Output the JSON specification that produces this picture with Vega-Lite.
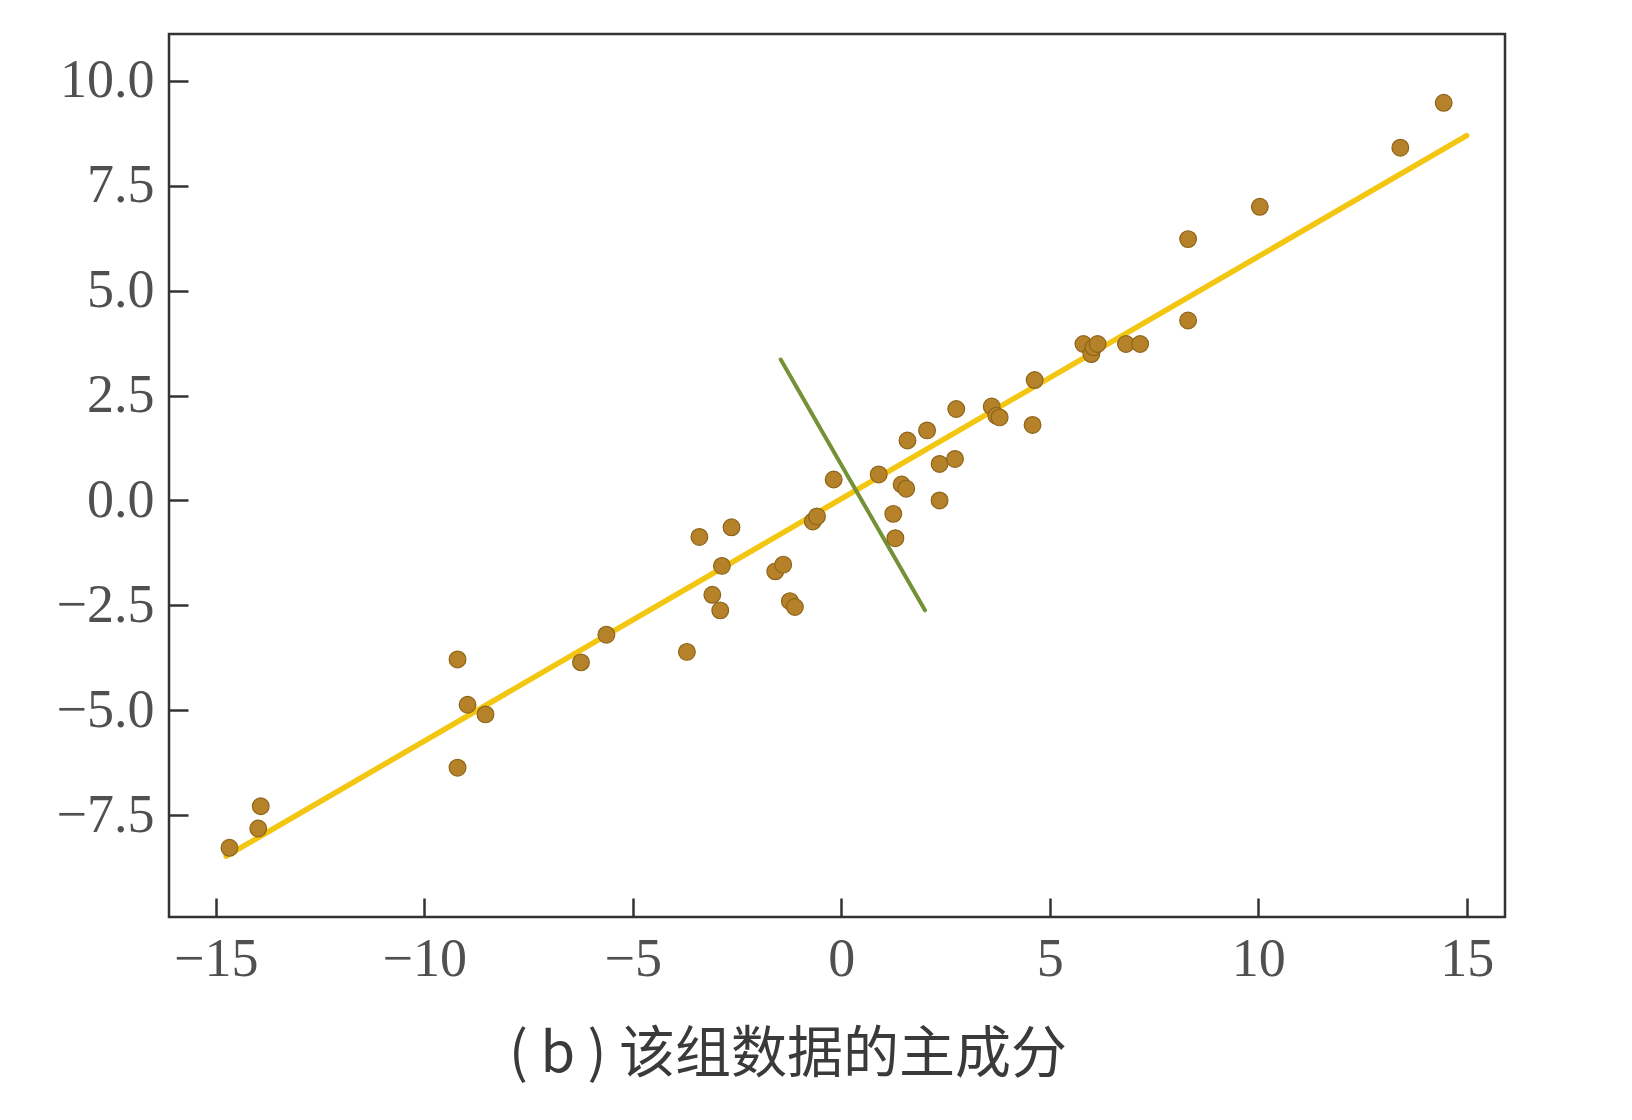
{
  "$schema": "https://vega.github.io/schema/vega-lite/v6.json",
  "width": 1336,
  "height": 883,
  "autosize": {"type": "none"},
  "padding": {"left": 169, "top": 34, "right": 127, "bottom": 203},
  "background": "white",
  "config": {
    "view": {"stroke": "#333333", "strokeWidth": 2.5},
    "axis": {
      "grid": false,
      "domain": false,
      "ticks": true,
      "tickSize": -19,
      "tickWidth": 2.5,
      "tickColor": "#333333",
      "labelFont": "Liberation Serif",
      "labelFontSize": 54,
      "labelColor": "#505050",
      "title": null
    }
  },
  "title": {
    "text": "( b ) 该组数据的主成分",
    "orient": "bottom",
    "anchor": "middle",
    "dx": -49,
    "offset": 42,
    "font": "Noto Sans CJK SC",
    "fontSize": 56,
    "fontWeight": "normal",
    "color": "#3a3a3a"
  },
  "datasets": {
    "points": [
      {"x": -14.67, "y": -8.28}, {"x": -13.98, "y": -7.82}, {"x": -13.92, "y": -7.29},
      {"x": -9.20, "y": -3.79}, {"x": -8.96, "y": -4.87}, {"x": -8.53, "y": -5.10},
      {"x": -9.20, "y": -6.37}, {"x": -6.24, "y": -3.86}, {"x": -5.63, "y": -3.20},
      {"x": -3.70, "y": -3.61}, {"x": -3.40, "y": -0.87}, {"x": -2.63, "y": -0.64},
      {"x": -2.86, "y": -1.56}, {"x": -3.09, "y": -2.25}, {"x": -2.90, "y": -2.62},
      {"x": -1.58, "y": -1.69}, {"x": -1.39, "y": -1.53}, {"x": -1.23, "y": -2.40},
      {"x": -1.11, "y": -2.54}, {"x": -0.68, "y": -0.50}, {"x": -0.58, "y": -0.38},
      {"x": -0.18, "y": 0.50}, {"x": 0.90, "y": 0.62}, {"x": 1.25, "y": -0.32},
      {"x": 1.30, "y": -0.90}, {"x": 1.45, "y": 0.38}, {"x": 1.56, "y": 0.28},
      {"x": 1.59, "y": 1.43}, {"x": 2.06, "y": 1.67}, {"x": 2.36, "y": 0.87},
      {"x": 2.73, "y": 0.99}, {"x": 2.36, "y": 0.0}, {"x": 2.76, "y": 2.18},
      {"x": 3.61, "y": 2.24}, {"x": 3.72, "y": 2.02}, {"x": 3.80, "y": 1.98},
      {"x": 4.59, "y": 1.80}, {"x": 4.64, "y": 2.87}, {"x": 5.81, "y": 3.73},
      {"x": 6.00, "y": 3.49}, {"x": 6.05, "y": 3.65}, {"x": 6.15, "y": 3.73},
      {"x": 6.83, "y": 3.73}, {"x": 7.17, "y": 3.73}, {"x": 8.32, "y": 6.23},
      {"x": 8.32, "y": 4.29}, {"x": 10.04, "y": 7.00}, {"x": 13.41, "y": 8.41},
      {"x": 14.45, "y": 9.48}
    ],
    "pc1": [{"x": -14.75, "y": -8.48}, {"x": 15.0, "y": 8.70}],
    "pc2": [{"x": -1.45, "y": 3.36}, {"x": 2.01, "y": -2.62}]
  },
  "layer": [
    {
      "data": {"name": "pc1"},
      "mark": {"type": "line", "color": "#F3C711", "strokeWidth": 5.5, "strokeCap": "round"},
      "encoding": {
        "x": {"field": "x", "type": "quantitative", "scale": {"domain": [-16.12, 15.92], "nice": false, "zero": false},
              "axis": {"values": [-15, -10, -5, 0, 5, 10, 15], "labelPadding": 34, "labelFlush": false}},
        "y": {"field": "y", "type": "quantitative", "scale": {"domain": [-9.93, 11.12], "nice": false, "zero": false},
              "axis": {"values": [-7.5, -5, -2.5, 0, 2.5, 5, 7.5, 10], "format": ".1f", "labelPadding": 34}}
      }
    },
    {
      "data": {"name": "pc2"},
      "mark": {"type": "line", "color": "#739236", "strokeWidth": 4, "strokeCap": "round"},
      "encoding": {
        "x": {"field": "x", "type": "quantitative"},
        "y": {"field": "y", "type": "quantitative"}
      }
    },
    {
      "data": {"name": "points"},
      "mark": {"type": "point", "filled": true, "color": "#B5822A", "stroke": "#8E6418", "strokeWidth": 1.2, "size": 280, "opacity": 1},
      "encoding": {
        "x": {"field": "x", "type": "quantitative"},
        "y": {"field": "y", "type": "quantitative"}
      }
    }
  ]
}
